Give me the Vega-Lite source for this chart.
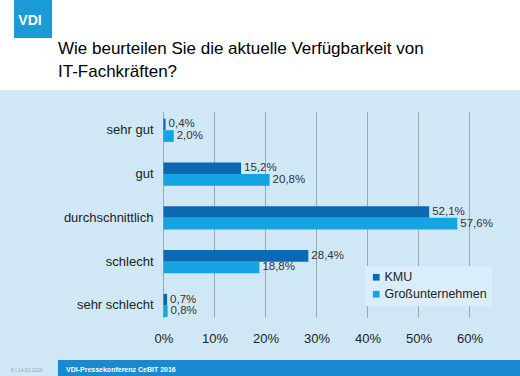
{
  "$schema": "https://vega.github.io/schema/vega-lite/v6.json",
  "width": 520,
  "height": 286,
  "padding": 0,
  "background": "#ffffff",
  "title": {
    "text": ["Wie beurteilen Sie die aktuelle Verfügbarkeit von", "IT-Fachkräften?"],
    "anchor": "start",
    "frame": "group",
    "dx": 58,
    "offset": -94,
    "fontSize": 17,
    "fontWeight": "normal",
    "font": "Liberation Sans",
    "color": "#000000",
    "lineHeight": 23,
    "baseline": "alphabetic"
  },
  "config": {
    "locale": {"number": {"decimal": ",", "thousands": ".", "grouping": [3], "currency": ["", " €"]}},
    "view": {"fill": "#d0e8f5", "stroke": null},
    "font": "Liberation Sans",
    "axis": {"labelFont": "Liberation Sans", "labelColor": "#222222", "labelFontSize": 13, "domain": false, "ticks": false, "grid": false, "title": null},
    "legend": {"labelFont": "Liberation Sans"}
  },
  "resolve": {"scale": {"y": "independent"}},
  "layer": [
    {
      "data": {"values": [{"t": 0}, {"t": 0.1}, {"t": 0.2}, {"t": 0.3}, {"t": 0.4}, {"t": 0.5}, {"t": 0.6}]},
      "mark": {"type": "rule", "color": "#9ea6ae", "strokeWidth": 1},
      "encoding": {
        "x": {"field": "t", "type": "quantitative", "scale": {"domain": [-0.3206, 0.6990], "nice": false, "zero": false},
              "axis": {"orient": "bottom", "offset": -44, "labelPadding": 0, "values": [0, 0.1, 0.2, 0.3, 0.4, 0.5, 0.6], "format": ".0%", "labelFontSize": 13, "labelColor": "#222222"}},
        "y": {"datum": 0, "type": "quantitative", "scale": {"domain": [-0.2816, 1.1068], "nice": false, "zero": false}, "axis": null},
        "y2": {"datum": 1}
      }
    },
    {
      "data": {"name": "survey", "values": [
        {"category": "sehr gut", "group": "KMU", "value": 0.004},
        {"category": "sehr gut", "group": "Großunternehmen", "value": 0.020},
        {"category": "gut", "group": "KMU", "value": 0.152},
        {"category": "gut", "group": "Großunternehmen", "value": 0.208},
        {"category": "durchschnittlich", "group": "KMU", "value": 0.521},
        {"category": "durchschnittlich", "group": "Großunternehmen", "value": 0.576},
        {"category": "schlecht", "group": "KMU", "value": 0.284},
        {"category": "schlecht", "group": "Großunternehmen", "value": 0.188},
        {"category": "sehr schlecht", "group": "KMU", "value": 0.007},
        {"category": "sehr schlecht", "group": "Großunternehmen", "value": 0.008}
      ]},
      "layer": [
        {
          "mark": {"type": "bar"},
          "encoding": {
            "y": {"field": "category", "type": "nominal",
                  "scale": {"domain": ["sehr gut", "gut", "durchschnittlich", "schlecht", "sehr schlecht"], "paddingInner": 0.47, "paddingOuter": 1.181, "align": 0.327},
                  "axis": {"orient": "left", "offset": -160, "labelPadding": 7, "labelFontSize": 13, "labelColor": "#222222"}},
            "yOffset": {"field": "group", "type": "nominal", "sort": ["KMU", "Großunternehmen"], "scale": {"paddingInner": 0, "paddingOuter": 0}},
            "x": {"field": "value", "type": "quantitative", "scale": {"domain": [-0.3206, 0.6990], "nice": false, "zero": false}},
            "color": {"field": "group", "type": "nominal",
                      "scale": {"domain": ["KMU", "Großunternehmen"], "range": ["#0a69b0", "#14a3e3"]},
                      "legend": {"orient": "none", "legendX": 365, "legendY": 176, "title": null, "fillColor": "#d9eefa", "padding": 5, "symbolType": "square", "symbolSize": 45, "symbolStrokeWidth": 0, "labelFontSize": 12.5, "labelColor": "#222222", "rowPadding": 4, "labelOffset": 2}}
          }
        },
        {
          "mark": {"type": "text", "align": "left", "baseline": "middle", "dx": 3, "fontSize": 11.5, "color": "#333333", "font": "Liberation Sans"},
          "encoding": {
            "y": {"field": "category", "type": "nominal",
                  "scale": {"domain": ["sehr gut", "gut", "durchschnittlich", "schlecht", "sehr schlecht"], "paddingInner": 0.47, "paddingOuter": 1.181, "align": 0.327}},
            "yOffset": {"field": "group", "type": "nominal", "sort": ["KMU", "Großunternehmen"], "scale": {"paddingInner": 0, "paddingOuter": 0}},
            "x": {"field": "value", "type": "quantitative", "scale": {"domain": [-0.3206, 0.6990], "nice": false, "zero": false}},
            "text": {"field": "value", "type": "quantitative", "format": ".1%"}
          }
        }
      ]
    },
    {
      "data": {"values": [{"label": "VDI-Pressekonferenz  CeBIT 2016", "side": "9 |   14.03.2016", "logo": "VDI"}]},
      "layer": [
        {
          "mark": {"type": "rect", "color": "#1a9ad6", "clip": false},
          "encoding": {
            "x": {"datum": -0.2931, "type": "quantitative", "scale": {"domain": [-0.3206, 0.6990], "nice": false, "zero": false}},
            "x2": {"datum": -0.2186},
            "y": {"datum": 1.5437, "type": "quantitative", "scale": {"domain": [-0.2816, 1.1068], "nice": false, "zero": false}, "axis": null},
            "y2": {"datum": 1.3592}
          }
        },
        {
          "mark": {"type": "text", "color": "#ffffff", "fontWeight": "bold", "fontSize": 14, "align": "center", "baseline": "middle", "clip": false},
          "encoding": {
            "x": {"datum": -0.2618, "type": "quantitative", "scale": {"domain": [-0.3206, 0.6990], "nice": false, "zero": false}},
            "y": {"datum": 1.4417, "type": "quantitative", "scale": {"domain": [-0.2816, 1.1068], "nice": false, "zero": false}, "axis": null},
            "text": {"field": "logo"}
          }
        },
        {
          "mark": {"type": "rect", "color": "#1b89cf", "clip": false},
          "encoding": {
            "x": {"datum": -0.2069, "type": "quantitative", "scale": {"domain": [-0.3206, 0.6990], "nice": false, "zero": false}},
            "x2": {"datum": 0.6990},
            "y": {"datum": -0.2039, "type": "quantitative", "scale": {"domain": [-0.2816, 1.1068], "nice": false, "zero": false}, "axis": null},
            "y2": {"datum": -0.2816}
          }
        },
        {
          "mark": {"type": "text", "color": "#ffffff", "fontWeight": "bold", "fontSize": 7, "align": "left", "baseline": "middle", "clip": false},
          "encoding": {
            "x": {"datum": -0.1912, "type": "quantitative", "scale": {"domain": [-0.3206, 0.6990], "nice": false, "zero": false}},
            "y": {"datum": -0.2524, "type": "quantitative", "scale": {"domain": [-0.2816, 1.1068], "nice": false, "zero": false}, "axis": null},
            "text": {"field": "label"}
          }
        },
        {
          "mark": {"type": "text", "color": "#9aa4ab", "fontSize": 5, "align": "left", "baseline": "middle", "clip": false},
          "encoding": {
            "x": {"datum": -0.2990, "type": "quantitative", "scale": {"domain": [-0.3206, 0.6990], "nice": false, "zero": false}},
            "y": {"datum": -0.2524, "type": "quantitative", "scale": {"domain": [-0.2816, 1.1068], "nice": false, "zero": false}, "axis": null},
            "text": {"field": "side"}
          }
        }
      ]
    }
  ]
}
